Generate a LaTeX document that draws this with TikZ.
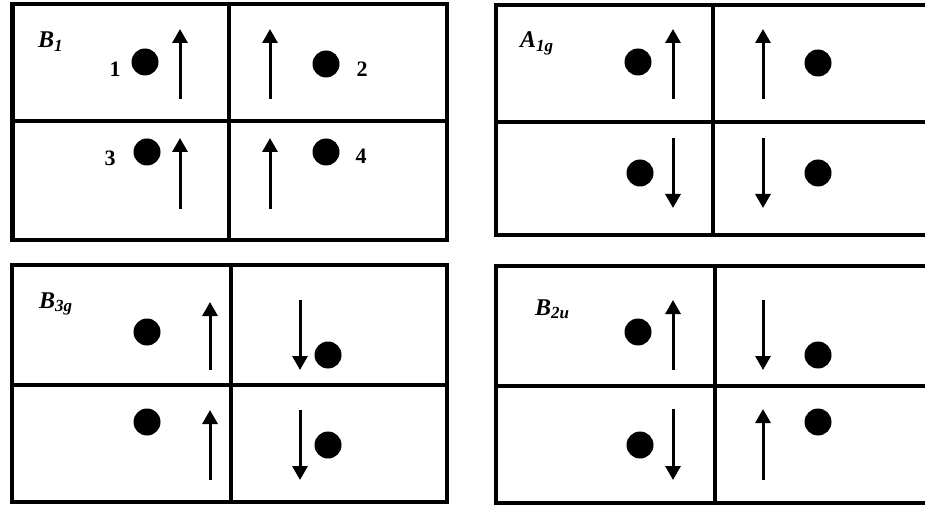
\documentclass[tikz,border=0pt]{standalone}
\usepackage{fontspec}
\setmainfont{Liberation Serif}
\usetikzlibrary{arrows.meta}
\newcommand\mysbs[1]{\raisebox{-3.5pt}{\fontsize{17}{17}\selectfont #1}}
\begin{document}
\begin{tikzpicture}[x=1pt,y=-1pt,
  frame/.style={line width=4.5pt},
  dot/.style={circle,fill=black,inner sep=0pt,minimum size=27pt},
  vec/.style={line width=3pt,-{Triangle[width=15pt,length=14pt]}},
  lab/.style={font=\fontsize{24}{24}\selectfont\bfseries\itshape,anchor=base west,inner sep=0pt},
  num/.style={font=\fontsize{22}{22}\selectfont\bfseries,anchor=base,inner sep=0pt}]
\useasboundingbox (0,0) rectangle (925,510);
\clip (0,0) rectangle (925,510);
% ---------- panel 1: B1 ----------
\draw[frame] (12.5,4) rectangle (447,240);
\draw[frame] (229,4) -- (229,240);
\draw[frame] (12.5,121) -- (447,121);
\node[lab] (l1) at (38,48) {B\mysbs{1}};
\node[num] (n1) at (115,77) {1};
\node[num] (n2) at (362,77) {2};
\node[num] (n3) at (110,166) {3};
\node[num] (n4) at (361,164) {4};
\node[dot] (a1) at (145,62) {};
\node[dot] (a2) at (326,64) {};
\node[dot] (a3) at (147,152) {};
\node[dot] (a4) at (326,152) {};
\coordinate (a1t) at (180,99);  \coordinate (a1h) at (180,29);
\coordinate (a2t) at (270,99);  \coordinate (a2h) at (270,29);
\coordinate (a3t) at (180,209); \coordinate (a3h) at (180,138);
\coordinate (a4t) at (270,209); \coordinate (a4h) at (270,138);
\draw[vec] (a1t) -- (a1h);
\draw[vec] (a2t) -- (a2h);
\draw[vec] (a3t) -- (a3h);
\draw[vec] (a4t) -- (a4h);
% ---------- panel 2: A1g ----------
\draw[frame] (496,5) rectangle (945,235);
\draw[frame] (713,5) -- (713,235);
\draw[frame] (496,122) -- (945,122);
\node[lab] (l2) at (520,48) {A\mysbs{1g}};
\node[dot] (b1) at (638,62) {};
\node[dot] (b2) at (818,63) {};
\node[dot] (b3) at (640,173) {};
\node[dot] (b4) at (818,173) {};
\coordinate (b1t) at (673,99);  \coordinate (b1h) at (673,29);
\coordinate (b2t) at (763,99);  \coordinate (b2h) at (763,29);
\coordinate (b3t) at (673,138); \coordinate (b3h) at (673,208);
\coordinate (b4t) at (763,138); \coordinate (b4h) at (763,208);
\draw[vec] (b1t) -- (b1h);
\draw[vec] (b2t) -- (b2h);
\draw[vec] (b3t) -- (b3h);
\draw[vec] (b4t) -- (b4h);
% ---------- panel 3: B3g ----------
\draw[frame] (12,265) rectangle (447,502);
\draw[frame] (231,265) -- (231,502);
\draw[frame] (12,385) -- (447,385);
\node[lab] (l3) at (39,308) {B\mysbs{3g}};
\node[dot] (c1) at (147,332) {};
\node[dot] (c2) at (328,355) {};
\node[dot] (c3) at (147,422) {};
\node[dot] (c4) at (328,445) {};
\coordinate (c1t) at (210,370); \coordinate (c1h) at (210,302);
\coordinate (c2t) at (300,300); \coordinate (c2h) at (300,370);
\coordinate (c3t) at (210,480); \coordinate (c3h) at (210,410);
\coordinate (c4t) at (300,410); \coordinate (c4h) at (300,480);
\draw[vec] (c1t) -- (c1h);
\draw[vec] (c2t) -- (c2h);
\draw[vec] (c3t) -- (c3h);
\draw[vec] (c4t) -- (c4h);
% ---------- panel 4: B2u ----------
\draw[frame] (496,266) rectangle (945,503);
\draw[frame] (715,266) -- (715,503);
\draw[frame] (496,386) -- (945,386);
\node[lab] (l4) at (535,315) {B\mysbs{2u}};
\node[dot] (d1) at (638,332) {};
\node[dot] (d2) at (818,355) {};
\node[dot] (d3) at (640,445) {};
\node[dot] (d4) at (818,422) {};
\coordinate (d1t) at (673,370); \coordinate (d1h) at (673,300);
\coordinate (d2t) at (763,300); \coordinate (d2h) at (763,370);
\coordinate (d3t) at (673,409); \coordinate (d3h) at (673,480);
\coordinate (d4t) at (763,480); \coordinate (d4h) at (763,409);
\draw[vec] (d1t) -- (d1h);
\draw[vec] (d2t) -- (d2h);
\draw[vec] (d3t) -- (d3h);
\draw[vec] (d4t) -- (d4h);
\end{tikzpicture}
\end{document}
